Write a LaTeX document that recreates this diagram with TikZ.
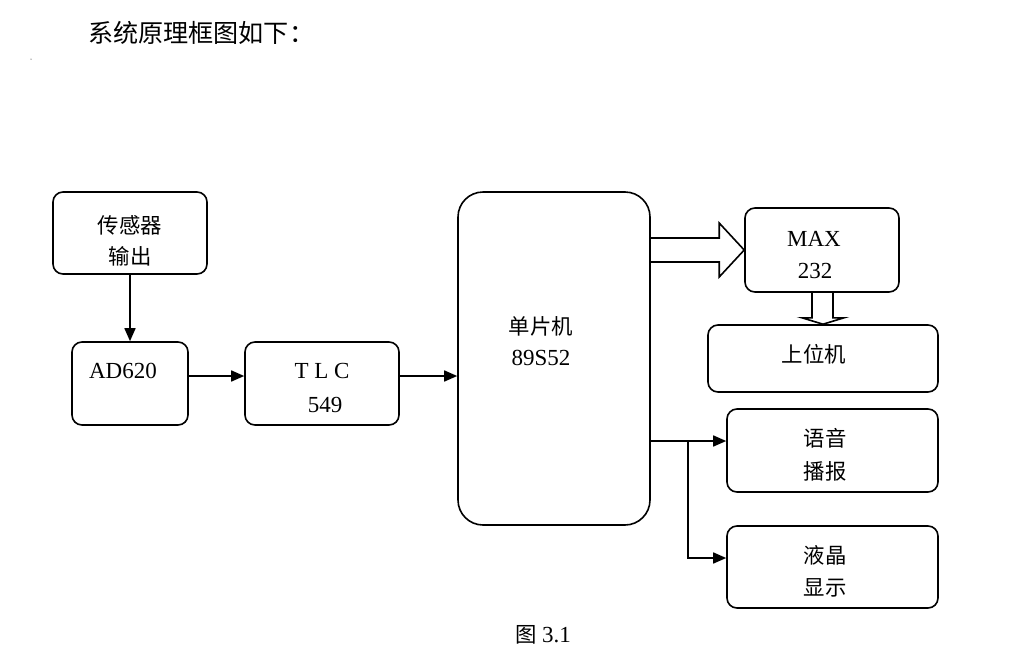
\documentclass[tikz,border=0pt]{standalone}
\usepackage{fontspec}
\setmainfont{Liberation Serif}
\newfontfamily\cjk[Scale=0.93]{Noto Sans CJK SC}
\usetikzlibrary{arrows.meta,calc}
\begin{document}
\begin{tikzpicture}[x=1pt,y=-1pt,
  box/.style={draw,line width=1.6pt,rounded corners=10pt,inner sep=0pt},
  arr/.style={line width=1.6pt,-{Triangle[length=13pt,width=11pt]}},
  hollow/.style={line width=1.6pt,line join=miter},
  lbl/.style={inner sep=0pt,font=\fontsize{23}{27}\selectfont}]
\useasboundingbox (0,0) rectangle (1031,667);
% title
\node[anchor=west,inner sep=0pt,font=\fontsize{27}{31}\selectfont] (title) at (88,33) {\cjk 系统原理框图如下：};
\fill (31,59) circle (0.5);
% boxes
\node[box,minimum width=154pt,minimum height=82pt] (sensor) at (130,233) {};
\node[box,minimum width=116pt,minimum height=83pt] (ad) at (130,383.5) {};
\node[box,minimum width=154pt,minimum height=83pt] (tlc) at (322,383.5) {};
\node[box,rounded corners=25pt,minimum width=192pt,minimum height=333pt] (mcu) at (554,358.5) {};
\node[box,minimum width=154pt,minimum height=84pt] (max) at (822,250) {};
\node[box,minimum width=230pt,minimum height=67pt] (pc) at (823,358.5) {};
\node[box,minimum width=211pt,minimum height=83pt] (voice) at (832.5,450.5) {};
\node[box,minimum width=211pt,minimum height=82pt] (lcd) at (832.5,567) {};
% labels
\node[lbl] (t1) at (130,225) {\cjk 传感器};
\node[lbl] (t2) at (130,256) {\cjk 输出};
\node[lbl] (t3) at (123,371) {AD620};
\node[lbl] (t4) at (322,371) {T L C};
\node[lbl] (t5) at (325,405) {549};
\node[lbl] (t6) at (541,326) {\cjk 单片机};
\node[lbl] (t7) at (541,358) {89S52};
\node[lbl] (t8) at (814,239) {MAX};
\node[lbl] (t9) at (815,271) {232};
\node[lbl] (t10) at (814,354) {\cjk 上位机};
\node[lbl] (t11) at (825,438) {\cjk 语音};
\node[lbl] (t12) at (825,471) {\cjk 播报};
\node[lbl] (t13) at (825,555) {\cjk 液晶};
\node[lbl] (t14) at (825,588) {\cjk 显示};
\node[lbl] (cap) at (543,635) {{\cjk 图} 3.1};
% connectors
\draw[arr] (sensor.south) -- (ad.north);
\draw[arr] ([yshift=7.5pt]ad.east) -- ([yshift=7.5pt]tlc.west);
\draw[arr] ([yshift=7.5pt]tlc.east) -- ([yshift=7.5pt]tlc.east -| mcu.west);
\coordinate (j) at (688,441);
\coordinate (j2) at (688,558);
\draw[arr] (mcu.east |- j) -- (voice.west |- j);
\draw[arr] (j) -- (j2) -- (j2 -| lcd.west);
% hollow arrows
\draw[hollow] ($(max.west)+(-95,-12)$) -- ($(max.west)+(-25,-12)$) -- ($(max.west)+(-25,-27)$)
  -- (max.west) -- ($(max.west)+(-25,27)$) -- ($(max.west)+(-25,12)$) -- ($(max.west)+(-95,12)$);
\draw[hollow] ($(max.south)+(-10,0)$) -- ($(max.south)+(-10,25)$) -- ($(max.south)+(-20,25)$)
  -- ($(pc.north)+(0,0)$) -- ($(max.south)+(22,25)$) -- ($(max.south)+(11,25)$) -- ($(max.south)+(11,0)$);
\end{tikzpicture}
\end{document}
